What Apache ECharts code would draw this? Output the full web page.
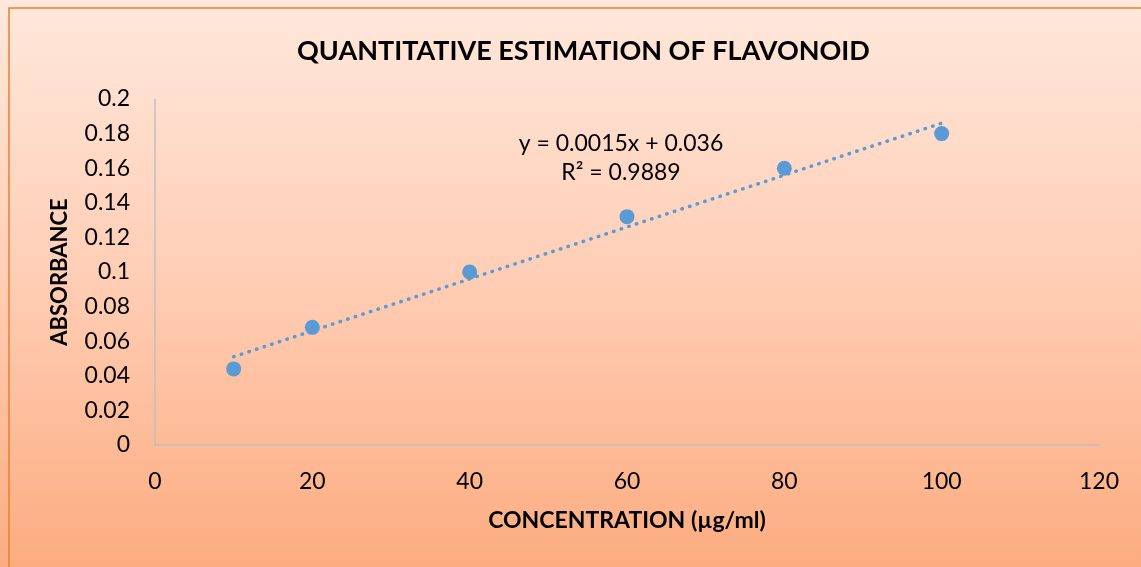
<!DOCTYPE html>
<html>
<head>
<meta charset="utf-8">
<script src="https://cdn.jsdelivr.net/npm/echarts@6/dist/echarts.min.js"></script>
<style>
  html, body { margin: 0; padding: 0; background: #fff; }
  #chart { width: 1141px; height: 567px; }
</style>
</head>
<body>
<div id="chart"></div>
<script>
  // data
  const concentration = [10, 20, 40, 60, 80, 100]
  const absorbance = [0.044, 0.068, 0.1, 0.132, 0.16, 0.18]
  // trendline end points (y = 0.0015x + 0.036)
  const trendX = [10, 100]
  const trendY = [0.051, 0.186]
  const equationText = ['y = 0.0015x + 0.036', 'R² = 0.9889']

  const font = 'Lato, "Liberation Sans", sans-serif'
  const blue = '#5B9BD5'

  const points = concentration.map((x, i) => [x, absorbance[i]])
  const trend = trendX.map((x, i) => [x, trendY[i]])

  const myCharts = echarts.init(document.getElementById('chart'))
  const option = {
    backgroundColor: new echarts.graphic.LinearGradient(0, 0, 0, 1, [
      { offset: 0, color: '#FFE8DC' },
      { offset: 0.5, color: '#FFCDB4' },
      { offset: 1, color: '#FCAC80' }
    ]),
    textStyle: { fontFamily: font },
    title: {
      text: 'QUANTITATIVE ESTIMATION OF FLAVONOID',
      left: 292,
      top: 33,
      textStyle: { fontFamily: font, fontSize: 27, fontWeight: 'bold', color: '#000' }
    },
    graphic: [
      {
        type: 'rect',
        shape: { x: 9, y: 8, width: 1140, height: 570 },
        style: { fill: 'none', stroke: '#ED7D31', lineWidth: 1.5 },
        silent: true
      },
      {
        type: 'text',
        x: 621,
        y: 129,
        style: {
          text: equationText.join('\n'),
          textAlign: 'center',
          font: '23px ' + font,
          lineHeight: 29,
          fill: '#000'
        },
        silent: true
      }
    ],
    grid: { left: 155, top: 99, right: 42, bottom: 122 },
    xAxis: {
      type: 'value',
      min: 0,
      max: 120,
      interval: 20,
      name: 'CONCENTRATION (µg/ml)',
      nameLocation: 'middle',
      nameGap: 64,
      nameTextStyle: { fontFamily: font, fontSize: 23, fontWeight: 'bold', color: '#000' },
      axisLine: { lineStyle: { color: '#BFBFBF', width: 1.5 } },
      axisTick: { show: false },
      splitLine: { show: false },
      axisLabel: { fontSize: 23, color: '#000', margin: 25, fontFamily: font }
    },
    yAxis: {
      type: 'value',
      min: 0,
      max: 0.2,
      interval: 0.02,
      name: 'ABSORBANCE',
      nameLocation: 'middle',
      nameGap: 84,
      nameTextStyle: { fontFamily: font, fontSize: 22, fontWeight: 'bold', color: '#000' },
      axisLine: { show: true, lineStyle: { color: '#BFBFBF', width: 1.5 } },
      axisTick: { show: false },
      splitLine: { show: false },
      axisLabel: { fontSize: 23, color: '#000', margin: 25, fontFamily: font }
    },
    series: [
      {
        name: 'trend',
        type: 'line',
        data: trend,
        symbol: 'none',
        lineStyle: { color: blue, width: 3.5, type: [0.5, 7.5], cap: 'round' },
        z: 2
      },
      {
        name: 'absorbance',
        type: 'scatter',
        data: points,
        symbolSize: 15,
        itemStyle: { color: blue, opacity: 1 },
        z: 3
      }
    ]
  }
  myCharts.setOption(option)
</script>
</body>
</html>
